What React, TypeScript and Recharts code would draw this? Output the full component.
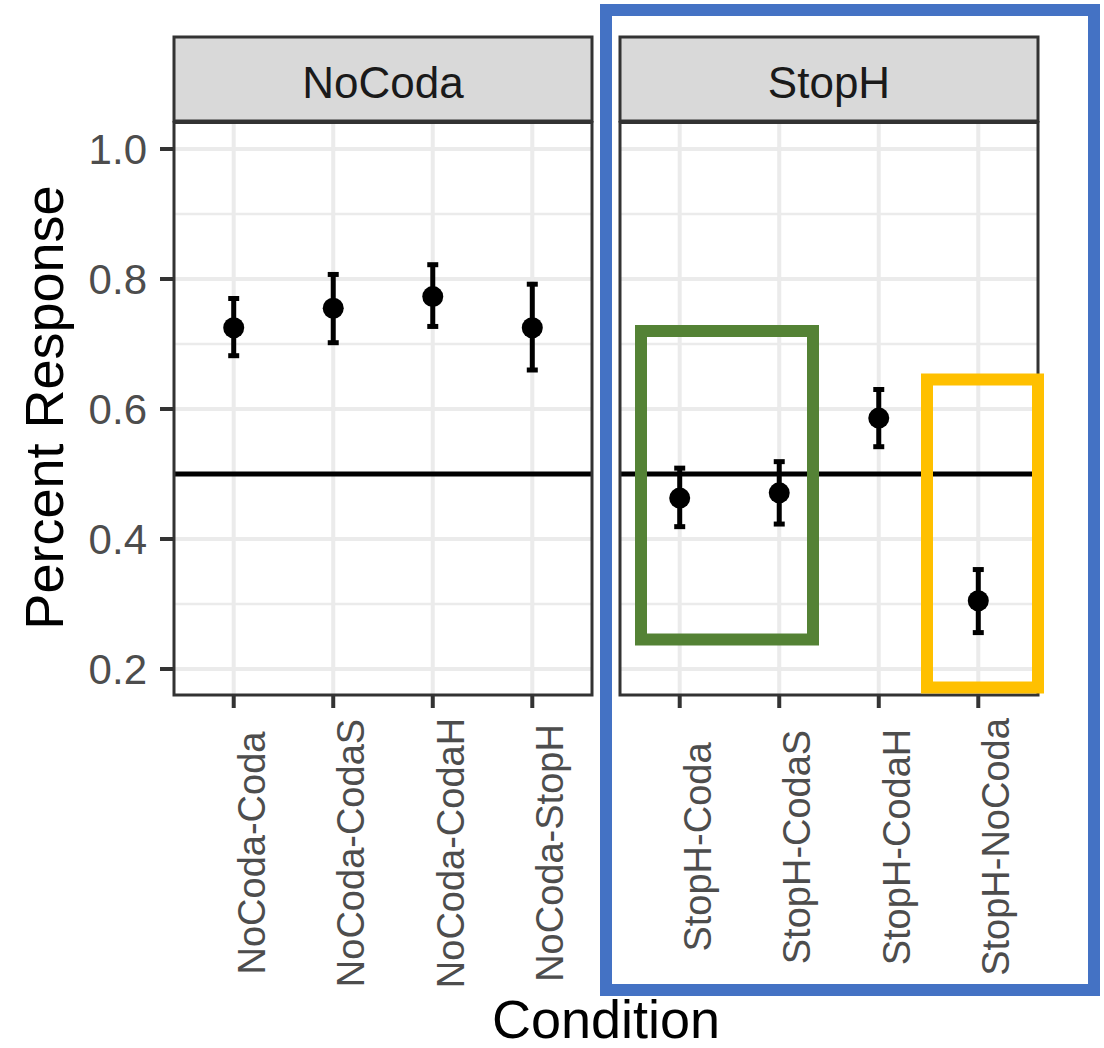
import React from 'react';
import { ScatterChart, Scatter, XAxis, YAxis, ErrorBar, ReferenceLine } from 'recharts';

const FONT = '"Liberation Sans", Arial, Helvetica, sans-serif';

// NoCoda facet
const noCodaLabels = ['NoCoda-Coda', 'NoCoda-CodaS', 'NoCoda-CodaH', 'NoCoda-StopH'];
const noCodaMean = [0.725, 0.755, 0.773, 0.725];
const noCodaLow = [0.682, 0.702, 0.727, 0.66];
const noCodaHigh = [0.77, 0.807, 0.822, 0.792];

// StopH facet
const stopHLabels = ['StopH-Coda', 'StopH-CodaS', 'StopH-CodaH', 'StopH-NoCoda'];
const stopHMean = [0.463, 0.471, 0.586, 0.305];
const stopHLow = [0.419, 0.423, 0.542, 0.256];
const stopHHigh = [0.509, 0.519, 0.63, 0.353];

const yMajor = [0.2, 0.4, 0.6, 0.8, 1.0];
const yMinor = [0.3, 0.5, 0.7, 0.9];
const xPositions = [1, 2, 3, 4];
const chanceLevel = 0.5;
const yDomain: [number, number] = [0.16, 1.04];
const xDomain: [number, number] = [0.4, 4.6];

type Row = { x: number; label: string; mean: number; err: [number, number] };

const buildRows = (labels: string[], mean: number[], low: number[], high: number[]): Row[] =>
  labels.map((label, i) => ({
    x: xPositions[i],
    label,
    mean: mean[i],
    err: [mean[i] - low[i], high[i] - mean[i]],
  }));

const noCodaRows = buildRows(noCodaLabels, noCodaMean, noCodaLow, noCodaHigh);
const stopHRows = buildRows(stopHLabels, stopHMean, stopHLow, stopHHigh);

// rotated x tick labels (angle 90, text sits just right of the tick)
const makeTick = (labels: string[], centerOffset: number) => (props: any) => {
  const { x, y, payload } = props;
  const tx = x + 31;
  const ty = y + centerOffset;
  return (
    <text
      x={tx}
      y={ty}
      transform={`rotate(-90, ${tx}, ${ty})`}
      textAnchor="middle"
      fontSize={38}
      fill="#4D4D4D"
      fontFamily={FONT}
    >
      {labels[payload.value - 1]}
    </text>
  );
};

const Dot = (props: any) => <circle cx={props.cx} cy={props.cy} r={10.5} fill="#000000" />;

interface PanelProps {
  rows: Row[];
  labels: string[];
  showY: boolean;
  width: number;
  marginLeft: number;
  marginRight: number;
  labelOffset: number;
}

const Panel: React.FC<PanelProps> = ({ rows, labels, showY, width, marginLeft, marginRight, labelOffset }) => (
  <ScatterChart
    width={width}
    height={1000}
    margin={{ top: 123, right: marginRight, bottom: 105, left: marginLeft }}
  >
    <XAxis
      type="number"
      dataKey="x"
      domain={xDomain}
      ticks={xPositions}
      interval={0}
      allowDataOverflow
      height={200}
      axisLine={false}
      tickSize={13}
      tickMargin={0}
      tickLine={{ stroke: '#333333', strokeWidth: 4 }}
      tick={makeTick(labels, labelOffset)}
    />
    <YAxis
      type="number"
      dataKey="mean"
      domain={yDomain}
      ticks={yMajor}
      interval={0}
      allowDataOverflow
      hide={!showY}
      width={80}
      axisLine={false}
      tickSize={14}
      tickMargin={13}
      tickLine={{ stroke: '#333333', strokeWidth: 4 }}
      tick={{ fontSize: 42, fill: '#4D4D4D', fontFamily: FONT }}
      tickFormatter={(v: number) => v.toFixed(1)}
    />
    {yMinor.map((v) => (
      <ReferenceLine key={`mn${v}`} y={v} stroke="#EBEBEB" strokeWidth={2.5} />
    ))}
    {yMajor.map((v) => (
      <ReferenceLine key={`mj${v}`} y={v} stroke="#EBEBEB" strokeWidth={4} />
    ))}
    {xPositions.map((v) => (
      <ReferenceLine key={`vx${v}`} x={v} stroke="#EBEBEB" strokeWidth={4} />
    ))}
    <ReferenceLine y={chanceLevel} stroke="#000000" strokeWidth={5} />
    <Scatter data={rows} shape={Dot} isAnimationActive={false}>
      <ErrorBar dataKey="err" direction="y" width={5.5} stroke="#000000" strokeWidth={5} isAnimationActive={false} />
    </Scatter>
  </ScatterChart>
);

export default function App() {
  return (
    <div style={{ position: 'relative', width: 1104, height: 1048, background: '#ffffff', overflow: 'hidden' }}>
      <style>{'body{margin:0}'}</style>
      <div style={{ position: 'absolute', left: 0, top: 0 }}>
        <Panel rows={noCodaRows} labels={noCodaLabels} showY width={600} marginLeft={94} marginRight={8} labelOffset={145} />
      </div>
      <div style={{ position: 'absolute', left: 600, top: 0 }}>
        <Panel rows={stopHRows} labels={stopHLabels} showY={false} width={450} marginLeft={20} marginRight={12} labelOffset={139} />
      </div>
      <svg
        width={1104}
        height={1048}
        style={{ position: 'absolute', left: 0, top: 0, pointerEvents: 'none' }}
        fontFamily={FONT}
      >
        {/* panel borders */}
        <rect x={174} y={122.5} width={418} height={572.5} fill="none" stroke="#333333" strokeWidth={3} />
        <rect x={620} y={122.5} width={418} height={572.5} fill="none" stroke="#333333" strokeWidth={3} />
        {/* strips */}
        <rect x={174} y={37} width={418} height={84} fill="#D9D9D9" stroke="#333333" strokeWidth={3} />
        <rect x={620} y={37} width={418} height={84} fill="#D9D9D9" stroke="#333333" strokeWidth={3} />
        <text x={383} y={98} textAnchor="middle" fontSize={44} fill="#1A1A1A">NoCoda</text>
        <text x={829} y={98} textAnchor="middle" fontSize={44} fill="#1A1A1A">StopH</text>
        {/* axis titles */}
        <text x={63} y={407.5} transform="rotate(-90, 63, 407.5)" textAnchor="middle" fontSize={54} fill="#000000">
          Percent Response
        </text>
        <text x={606} y={1038} textAnchor="middle" fontSize={54} fill="#000000">Condition</text>
        {/* highlight boxes */}
        <rect x={641} y={331} width={172} height={308.5} fill="none" stroke="#548235" strokeWidth={12} />
        <rect x={927} y={379.5} width={111} height={308} fill="none" stroke="#FFC000" strokeWidth={12} />
        <rect x={606} y={10} width={488} height={980} fill="none" stroke="#4472C4" strokeWidth={12} />
      </svg>
    </div>
  );
}
